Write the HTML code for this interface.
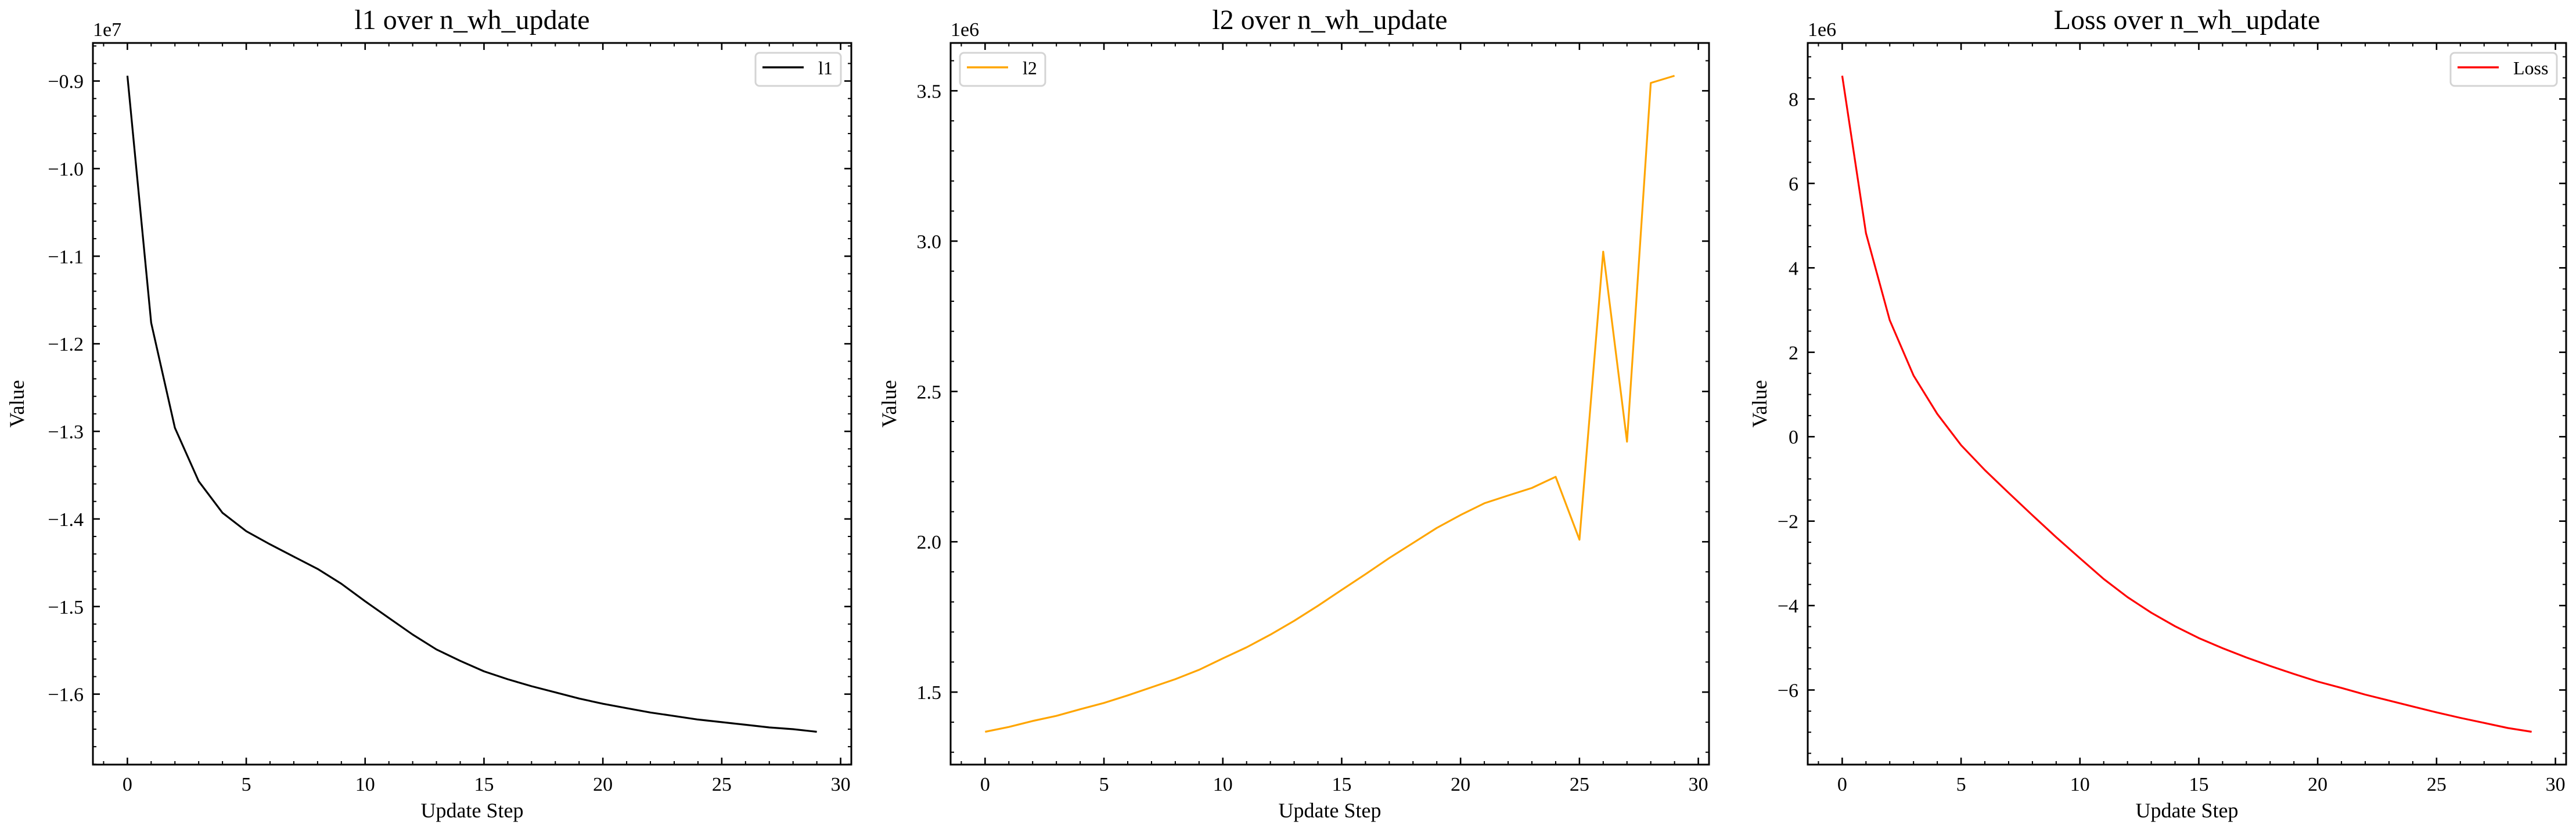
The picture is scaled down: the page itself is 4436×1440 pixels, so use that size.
<!DOCTYPE html>
<html><head><meta charset="utf-8">
<style>
html,body{margin:0;padding:0;background:#fff;}
svg{display:block;font-family:"Liberation Serif","DejaVu Serif",serif;}
</style></head>
<body>
<svg id="fig" width="4436" height="1440" viewBox="0 0 4436 1440" xmlns="http://www.w3.org/2000/svg"></svg>
<script>
const steps = [0,1,2,3,4,5,6,7,8,9,10,11,12,13,14,15,16,17,18,19,20,21,22,23,24,25,26,27,28,29];
const l1Values = [-0.894,-1.176,-1.296,-1.357,-1.393,-1.414,-1.429,-1.443,-1.457,-1.474,-1.494,-1.513,-1.532,-1.549,-1.562,-1.574,-1.583,-1.591,-1.598,-1.605,-1.611,-1.616,-1.621,-1.625,-1.629,-1.632,-1.635,-1.638,-1.640,-1.643];
const l2Values = [1.368,1.384,1.404,1.421,1.443,1.464,1.489,1.516,1.543,1.574,1.612,1.649,1.691,1.737,1.787,1.840,1.892,1.946,1.996,2.046,2.089,2.128,2.154,2.179,2.216,2.007,2.965,2.333,3.526,3.550];
const lossValues = [8.55,4.82,2.76,1.45,0.54,-0.20,-0.79,-1.33,-1.86,-2.38,-2.88,-3.37,-3.80,-4.17,-4.49,-4.77,-5.01,-5.23,-5.43,-5.62,-5.80,-5.95,-6.11,-6.25,-6.39,-6.53,-6.66,-6.78,-6.90,-6.99];
const xTicks = [0,5,10,15,20,25,30];
const l1Ticks = [-0.9,-1.0,-1.1,-1.2,-1.3,-1.4,-1.5,-1.6];
const l1TickLabels = ["\u22120.9","\u22121.0","\u22121.1","\u22121.2","\u22121.3","\u22121.4","\u22121.5","\u22121.6"];
const l2Ticks = [1.5,2.0,2.5,3.0,3.5];
const l2TickLabels = ["1.5","2.0","2.5","3.0","3.5"];
const lossTicks = [-6,-4,-2,0,2,4,6,8];
const lossTickLabels = ["\u22126","\u22124","\u22122","0","2","4","6","8"];

const NS = "http://www.w3.org/2000/svg";
const svg = document.getElementById('fig');
function mk(tag, attrs, parent){
  const e = document.createElementNS(NS, tag);
  for (const k in attrs) e.setAttribute(k, attrs[k]);
  (parent||svg).appendChild(e);
  return e;
}
const TOP = 74, BOT = 1317, W = 1306;

function drawPanel(cfg){
  const L = cfg.left, R = L + W;
  const g = mk('g', {});
  
  
  const xmin = -1.45, xmax = 30.45;
  const dmin = Math.min(...cfg.values), dmax = Math.max(...cfg.values);
  const m = (dmax - dmin) * 0.05;
  const ymin = dmin - m, ymax = dmax + m;
  const sx = v => L + (v - xmin) / (xmax - xmin) * W;
  const sy = v => BOT - (v - ymin) / (ymax - ymin) * (BOT - TOP);

  // minor x ticks
  for (let v = -1; v <= 30; v++) {
    const major = v % 5 === 0;
    const len = major ? 12 : 6;
    const x = sx(v);
    const t1 = mk('line', {x1:x, x2:x, y1:BOT, y2:BOT-len, stroke:'#000','stroke-width':major?2.6:2}, g);
    
    
    const t2 = mk('line', {x1:x, x2:x, y1:TOP, y2:TOP+len, stroke:'#000','stroke-width':major?2.6:2}, g);
    
    
  }
  xTicks.forEach(v => {
    const t = mk('text', {x:sx(v), y:1362, 'font-size':34, 'text-anchor':'middle', fill:'#000'}, g);
    
    
    t.textContent = String(v);
  });
  // minor y ticks
  const step = cfg.minor;
  const start = Math.ceil(ymin / step - 1e-9);
  const end = Math.floor(ymax / step + 1e-9);
  for (let i = start; i <= end; i++) {
    const v = i * step;
    const major = cfg.ticks.some(t => Math.abs(t - v) < step / 10);
    const len = major ? 12 : 6;
    const y = sy(v);
    const a = mk('line', {x1:L, x2:L+len, y1:y, y2:y, stroke:'#000','stroke-width':major?2.6:2}, g);
    
    
    const b = mk('line', {x1:R, x2:R-len, y1:y, y2:y, stroke:'#000','stroke-width':major?2.6:2}, g);
    
    
  }
  cfg.ticks.forEach((v, i) => {
    const t = mk('text', {x:L-16, y:sy(v)+12, 'font-size':34, 'text-anchor':'end', fill:'#000'}, g);
    
    
    t.textContent = cfg.labels[i];
  });
  // data line
  const pts = steps.map((s, i) => sx(s).toFixed(1) + ',' + sy(cfg.values[i]).toFixed(1)).join(' ');
  const pl = mk('polyline', {points:pts, fill:'none', stroke:cfg.color, 'stroke-width':3.2, 'stroke-linejoin':'round'}, g);
  
  
  // spines
  const fr = mk('rect', {x:L, y:TOP, width:W, height:BOT-TOP, fill:'none', stroke:'#000', 'stroke-width':3}, g);
  
  
  // offset text
  const off = mk('text', {x:L, y:62, 'font-size':34, fill:'#000'}, g);
  
  
  off.textContent = cfg.offset;
  // title
  const tt = mk('text', {x:L+W/2, y:50, 'font-size':48, 'text-anchor':'middle', fill:'#000'}, g);
  
  
  tt.textContent = cfg.title;
  // x label
  const xl = mk('text', {x:L+W/2, y:1408, 'font-size':36, 'text-anchor':'middle', fill:'#000'}, g);
  
  
  xl.textContent = 'Update Step';
  // y label
  const yl = mk('text', {x:0, y:0, 'font-size':36, 'text-anchor':'middle', fill:'#000', transform:'translate(' + (cfg.ylabelX + 12) + ',' + ((TOP+BOT)/2) + ') rotate(-90)'}, g);
  
  
  yl.textContent = 'Value';
  // legend
  const lg = mk('g', {}, g);
  
  
  const lb = mk('rect', {x:cfg.legX, y:91, width:cfg.legW, height:57, rx:7, fill:'#fff', stroke:'#d4d4d4', 'stroke-width':3}, lg);
  
  
  const ll = mk('line', {x1:cfg.legX+12, x2:cfg.legX+83, y1:116, y2:116, stroke:cfg.color, 'stroke-width':3.5}, lg);
  
  
  const lt = mk('text', {x:cfg.legX+108, y:128, 'font-size':32, fill:'#000'}, lg);
  
  
  lt.textContent = cfg.legend;
}

drawPanel({name:'l1', left:160, values:l1Values, ticks:l1Ticks, labels:l1TickLabels, minor:0.02, color:'#000000', offset:'1e7', title:'l1 over n_wh_update', legend:'l1', legX:1301, legW:147, ylabelX:29});
drawPanel({name:'l2', left:1637, values:l2Values, ticks:l2Ticks, labels:l2TickLabels, minor:0.1, color:'#ffa500', offset:'1e6', title:'l2 over n_wh_update', legend:'l2', legX:1653, legW:147, ylabelX:1531});
drawPanel({name:'loss', left:3113, values:lossValues, ticks:lossTicks, labels:lossTickLabels, minor:0.5, color:'#ff0000', offset:'1e6', title:'Loss over n_wh_update', legend:'Loss', legX:4220, legW:183, ylabelX:3030});
</script>
</body></html>
